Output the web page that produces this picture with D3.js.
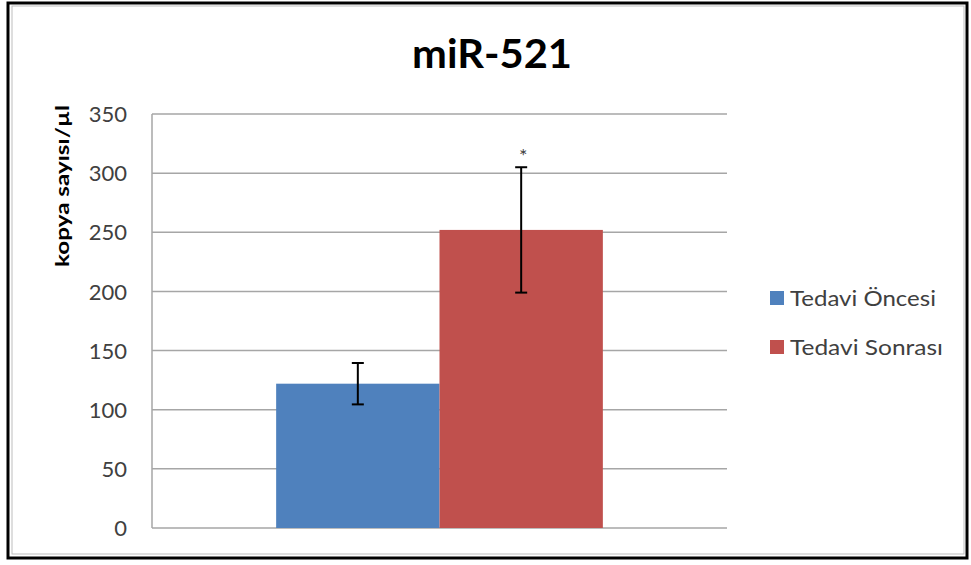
<!DOCTYPE html>
<html><head><meta charset="utf-8">
<script src="https://cdn.jsdelivr.net/npm/d3@7"></script>
<style>body{margin:0;background:#fff}svg{display:block}</style>
</head><body>
<svg id="c" width="971" height="565"></svg>
<script>
const title = "miR-521";
const yAxisTitle = "kopya sayısı/µl";
const categories = [""];
const seriesNames = ["Tedavi Öncesi", "Tedavi Sonrası"];
const seriesColors = ["#4F81BD", "#C0504D"];
const values = [122, 252];
const errors = [17.5, 53];
const significance = ["", "*"];
const yTicks = [0, 50, 100, 150, 200, 250, 300, 350];

const svg = d3.select("#c");
const font = "Lato, 'Open Sans', sans-serif";

// frame
svg.append("rect").attr("x", 8).attr("y", 3).attr("width", 959).attr("height", 555)
  .attr("fill", "#fff").attr("stroke", "#000").attr("stroke-width", 3);
svg.append("rect").attr("x", 12).attr("y", 6).attr("width", 952).attr("height", 548)
  .attr("fill", "none").attr("stroke", "#bdbdbd").attr("stroke-width", 1);

const m = {left: 152, right: 727, top: 114, bottom: 528};
const y = d3.scaleLinear().domain([0, 350]).range([m.bottom, m.top]);
const x0 = d3.scaleBand().domain(categories).range([m.left, m.right]).paddingInner(0).paddingOuter(0.38);
const x1 = d3.scaleBand().domain(seriesNames).range([0, x0.bandwidth()]).padding(0);

// gridlines
svg.append("g").selectAll("line").data(yTicks.filter(d => d > 0)).join("line")
  .attr("x1", m.left).attr("x2", m.right).attr("y1", d => y(d)).attr("y2", d => y(d))
  .attr("stroke", "#a6a6a6").attr("stroke-width", 1.5);

// y axis
const yAxis = d3.axisLeft(y).tickValues(yTicks).tickSize(0).tickPadding(0);
const ga = svg.append("g").attr("transform", `translate(127,0)`).call(yAxis);
ga.select(".domain").remove();
ga.selectAll("text").attr("font-family", font).attr("font-size", 22).attr("fill", "#404040").attr("dy", "0.35em");

// axis lines
svg.append("line").attr("x1", m.left).attr("x2", m.left).attr("y1", m.top).attr("y2", m.bottom)
  .attr("stroke", "#a6a6a6").attr("stroke-width", 1.5);
svg.append("line").attr("x1", m.left).attr("x2", m.right).attr("y1", m.bottom).attr("y2", m.bottom)
  .attr("stroke", "#a6a6a6").attr("stroke-width", 1.5);

// bars
const data = seriesNames.map((s, i) => ({s, v: values[i], e: errors[i], c: seriesColors[i], sig: significance[i]}));
const g = svg.append("g").attr("transform", `translate(${x0(categories[0])},0)`);
g.selectAll("rect").data(data).join("rect")
  .attr("x", d => x1(d.s)).attr("width", x1.bandwidth())
  .attr("y", d => y(d.v)).attr("height", d => y(0) - y(d.v))
  .attr("fill", d => d.c);

// error bars
const eb = g.selectAll("g.eb").data(data).join("g").attr("class", "eb");
eb.append("line").attr("x1", d => x1(d.s) + x1.bandwidth() / 2).attr("x2", d => x1(d.s) + x1.bandwidth() / 2)
  .attr("y1", d => y(d.v + d.e)).attr("y2", d => y(d.v - d.e)).attr("stroke", "#000").attr("stroke-width", 2);
[1, -1].forEach(sg => {
  eb.append("line").attr("x1", d => x1(d.s) + x1.bandwidth() / 2 - 6).attr("x2", d => x1(d.s) + x1.bandwidth() / 2 + 6)
    .attr("y1", d => y(d.v + sg * d.e)).attr("y2", d => y(d.v + sg * d.e)).attr("stroke", "#000").attr("stroke-width", 2);
});
eb.append("text").attr("x", d => x1(d.s) + x1.bandwidth() / 2 + 2).attr("y", d => y(d.v + d.e) - 4)
  .attr("text-anchor", "middle").attr("font-family", font).attr("font-size", 20).attr("fill", "#404040")
  .text(d => d.sig);

// title
svg.append("text").attr("x", 492).attr("y", 68).attr("text-anchor", "middle")
  .attr("font-family", font).attr("font-weight", "bold").attr("font-size", 41).attr("fill", "#000")
  .attr("textLength", 160).attr("lengthAdjust", "spacingAndGlyphs").text(title);

// y axis title
svg.append("text").attr("transform", "translate(69,186) rotate(-90)").attr("text-anchor", "middle")
  .attr("font-family", font).attr("font-weight", "bold").attr("font-size", 19).attr("fill", "#000")
  .attr("textLength", 162).attr("lengthAdjust", "spacingAndGlyphs").text(yAxisTitle);

// legend
const legendWidths = [146, 153];
const lg = svg.append("g").selectAll("g").data(data).join("g")
  .attr("transform", (d, i) => `translate(770,${298 + i * 49})`);
lg.append("rect").attr("x", 0).attr("y", -7).attr("width", 14).attr("height", 14).attr("fill", d => d.c);
lg.append("text").attr("x", 20).attr("y", 0).attr("dy", "0.36em").attr("font-family", font)
  .attr("font-size", 22).attr("fill", "#404040")
  .attr("textLength", (d, i) => legendWidths[i]).attr("lengthAdjust", "spacingAndGlyphs").text(d => d.s);
</script>
</body></html>
